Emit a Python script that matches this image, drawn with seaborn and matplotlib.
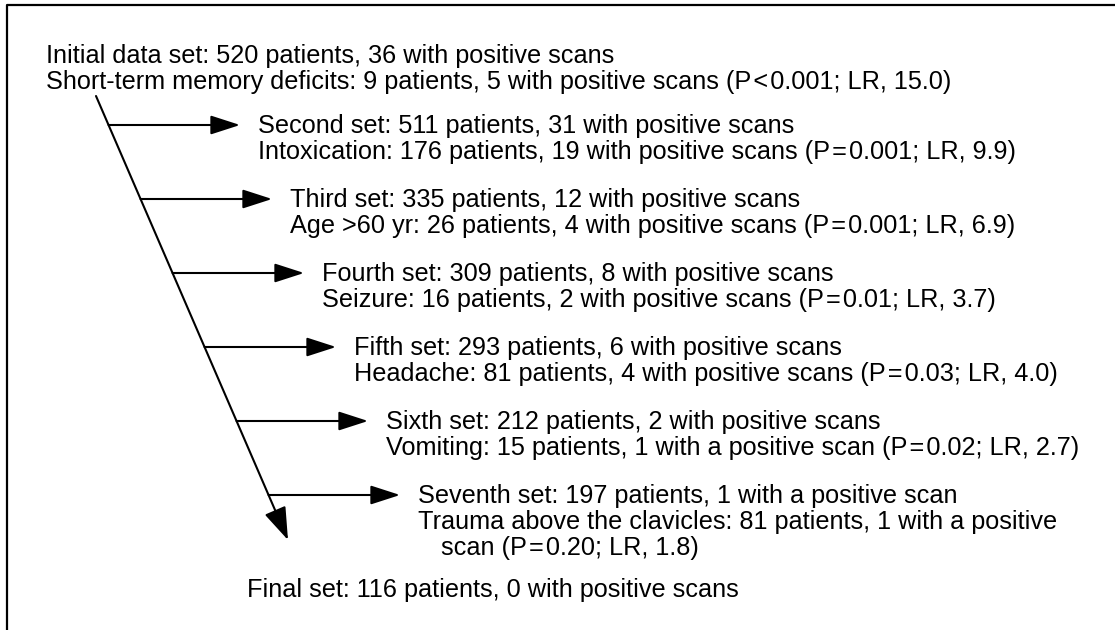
import matplotlib
matplotlib.use("Agg")
import matplotlib.pyplot as plt
import seaborn as sns

# Data: successive data sets and the splitting criterion applied at each step
set_names = ["Initial data", "Second", "Third", "Fourth", "Fifth", "Sixth", "Seventh", "Final"]
set_patients = [520, 511, 335, 309, 293, 212, 197, 116]
set_positive = [36, 31, 12, 8, 6, 2, 1, 0]

criteria = ["Short-term memory deficits", "Intoxication", "Age >60 yr", "Seizure",
            "Headache", "Vomiting", "Trauma above the clavicles"]
crit_patients = [9, 176, 26, 16, 81, 15, 81]
crit_positive = [5, 19, 4, 2, 4, 1, 1]
p_values = ["P<0.001", "P=0.001", "P=0.001", "P=0.01", "P=0.03", "P=0.02", "P=0.20"]
lr_values = [15.0, 9.9, 6.9, 3.7, 4.0, 2.7, 1.8]


def positives_text(n):
    return "1 with a positive scan" if n == 1 else "{} with positive scans".format(n)


def set_line(i):
    return "{} set: {} patients, {}".format(set_names[i], set_patients[i], positives_text(set_positive[i]))


def crit_text(i):
    # the source typesets < and = with a little extra room
    p = p_values[i].replace("<", "\u200a<\u200a").replace("=", "\u200a=\u200a")
    return "{}: {} patients, {} ({}; LR, {:.1f})".format(criteria[i], crit_patients[i],
                                                       positives_text(crit_positive[i]), p, lr_values[i])


sns.set_theme(style="white")
plt.rcParams["font.family"] = ["Liberation Sans", "DejaVu Sans"]

W, H = 1115, 630
fig = plt.figure(figsize=(W / 100, H / 100), dpi=100)
ax = fig.add_axes([0, 0, 1, 1])
ax.set_xlim(0, W)
ax.set_ylim(H, 0)
ax.axis("off")
renderer = fig.canvas.get_renderer()

fs = 18.2
line_h = 26
lw = 1.5
right_limit = 1090
indent = 23


def text_width(s):
    t = ax.text(0, 0, s, fontsize=fs)
    w = t.get_window_extent(renderer).width
    t.remove()
    return w


def wrap(s, x):
    # greedy word wrap so that no line runs past right_limit
    words = s.split(" ")
    lines, cur = [], words[0]
    for w in words[1:]:
        xx = x if not lines else x + indent
        if xx + text_width(cur + " " + w) > right_limit:
            lines.append(cur)
            cur = w
        else:
            cur = cur + " " + w
    lines.append(cur)
    return lines


def put_block(x, y, first, crit):
    ax.text(x, y, first, fontsize=fs, va="baseline", ha="left", color="black")
    for k, ln in enumerate(wrap(crit, x)):
        ax.text(x + (indent if k else 0), y + line_h * (k + 1), ln,
                fontsize=fs, va="baseline", ha="left", color="black")


# frame (left and top edges only)
ax.plot([7, 7, W], [H, 5, 5], color="black", lw=1.6, solid_capstyle="butt")

# main diagonal
x0, y0, x1, y1 = 96, 96, 288, 540
ax.annotate("", xy=(x1, y1), xytext=(x0, y0),
            arrowprops=dict(arrowstyle="-|>,head_length=1.45,head_width=0.5", mutation_scale=14,
                            color="black", lw=lw, shrinkA=0, shrinkB=0))

# initial set
put_block(46, 63, set_line(0), crit_text(0))

# branches
step_y = 74
arrow_len = 131.5
for i in range(1, 7):
    ya = 125 + (i - 1) * step_y
    xs = x0 + (x1 - x0) * (ya - y0) / (y1 - y0)
    xt = xs + arrow_len
    ax.annotate("", xy=(xt, ya), xytext=(xs, ya),
                arrowprops=dict(arrowstyle="-|>,head_length=1.3,head_width=0.42", mutation_scale=14,
                                color="black", lw=lw, shrinkA=0, shrinkB=0))
    put_block(xt + 18, ya + 8, set_line(i), crit_text(i))

# final set
ax.text(247, 597, set_line(7), fontsize=fs, va="baseline", ha="left", color="black")

fig.savefig("out.png", dpi=100, facecolor="white")
